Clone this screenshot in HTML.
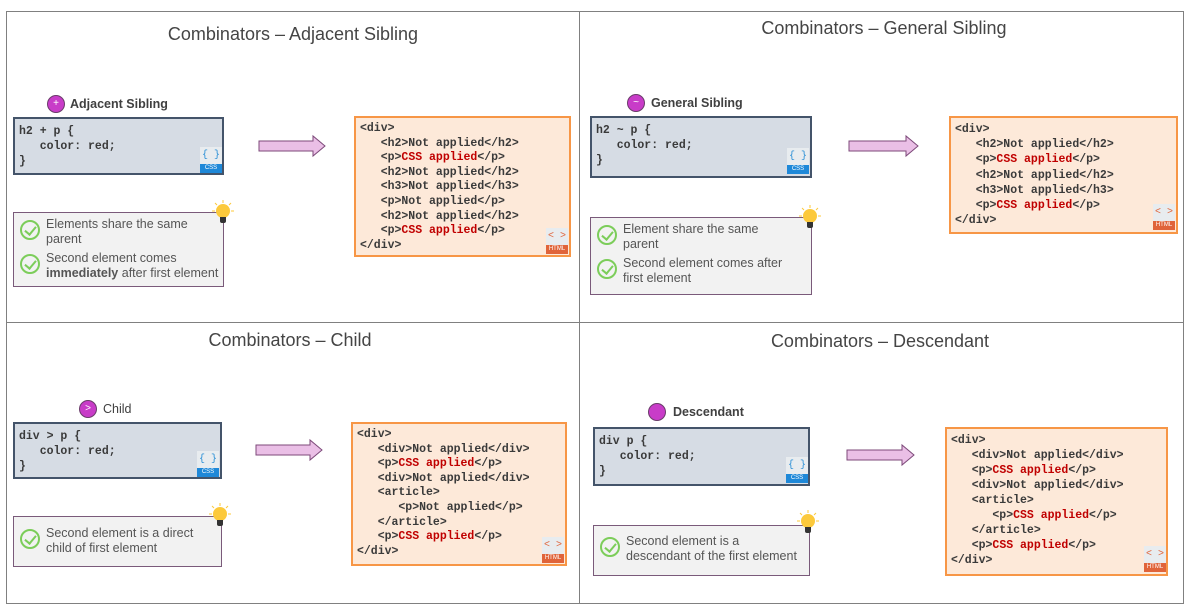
<!DOCTYPE html>
<html><head><meta charset="utf-8"><style>
*{margin:0;padding:0;box-sizing:border-box}
body{width:1188px;height:608px;background:#fff;position:relative;overflow:hidden;font-family:"Liberation Sans",sans-serif;color:#404040}
.a{position:absolute}
.frame{left:6px;top:11px;width:1178px;height:593px;border:1px solid #808080}
.vl{left:579px;top:11px;width:1px;height:593px;background:#808080}
.hl{left:6px;top:322px;width:1178px;height:1px;background:#808080}
.title{font-size:18px;color:#454545;text-align:center;width:400px;white-space:nowrap}
.badge{width:18px;height:18px;border-radius:50%;background:#c83cc8;border:1px solid #6a3b6a;color:#fff;font-size:10px;text-align:center;line-height:16px}
.lbl{font-size:12.5px;font-weight:bold;color:#404040;white-space:nowrap}
.css{background:#d6dce4;border:2px solid #44546a;font-family:"Liberation Mono",monospace;font-weight:bold;font-size:11.5px;line-height:15px;padding:5px 4px;white-space:pre;color:#3a3a3a}
.html{background:#fde9d9;border:2px solid #f79646;font-family:"Liberation Mono",monospace;font-weight:bold;font-size:11.5px;line-height:14.6px;padding:4px 4px;white-space:pre;color:#3a3a3a}
.r{color:#c00000}
.tip{background:#f2f2f2;border:1.5px solid #7a5a7a;font-size:12.5px;line-height:15px;color:#555}
.tip .row{display:flex;align-items:flex-start;margin:4px 0 0 4px}
.chk{width:20px;height:20px;border:2px solid #7ccd5a;border-radius:50%;margin:3px 6px 0 2px;flex:none;position:relative}
.chk:after{content:"";position:absolute;left:5px;top:2px;width:5px;height:9px;border:solid #7ccd5a;border-width:0 2px 2px 0;transform:rotate(40deg)}
.ci{width:22px;height:26px;background:#e8ecef}
.ci .t{font-size:10px;color:#2a8fd6;text-align:center;line-height:17px;font-family:"Liberation Mono",monospace}
.ci .b{background:#1e88d8;color:#fff;font-size:6px;text-align:center;line-height:9px}
.hi .t{color:#e0643a}
.hi .b{background:#e0643a}
.bulb{width:14px;height:14px;border-radius:50%;background:#fcc93b}
.bulb:after{content:"";position:absolute;left:4px;top:13px;width:6px;height:6px;background:#333;border-radius:0 0 2px 2px}
</style></head><body>
<div class="a frame"></div><div class="a vl"></div><div class="a hl"></div>

<svg class="a" style="left:0;top:0" width="1188" height="608">
<g fill="#eabfe6" stroke="#7d4a7a" stroke-width="1">
<polygon points="259,141 313,141 313,136 325,146 313,156 313,151 259,151"/>
<polygon points="849,141 906,141 906,136 918,146 906,156 906,151 849,151"/>
<polygon points="256,445 310,445 310,440 322,450 310,460 310,455 256,455"/>
<polygon points="847,450 902,450 902,445 914,455 902,465 902,460 847,460"/>
</g>
<g stroke="#fcc93b" stroke-width="1">
<line x1="223" y1="200" x2="223" y2="203"/><line x1="212" y1="211" x2="215" y2="211"/><line x1="231" y1="211" x2="234" y2="211"/><line x1="215" y1="203" x2="217" y2="205"/><line x1="231" y1="203" x2="229" y2="205"/>
<line x1="810" y1="205" x2="810" y2="208"/><line x1="799" y1="216" x2="802" y2="216"/><line x1="818" y1="216" x2="821" y2="216"/><line x1="802" y1="208" x2="804" y2="210"/><line x1="818" y1="208" x2="816" y2="210"/>
<line x1="220" y1="503" x2="220" y2="506"/><line x1="209" y1="514" x2="212" y2="514"/><line x1="228" y1="514" x2="231" y2="514"/><line x1="212" y1="506" x2="214" y2="508"/><line x1="228" y1="506" x2="226" y2="508"/>
<line x1="808" y1="510" x2="808" y2="513"/><line x1="797" y1="521" x2="800" y2="521"/><line x1="816" y1="521" x2="819" y2="521"/><line x1="800" y1="513" x2="802" y2="515"/><line x1="816" y1="513" x2="814" y2="515"/>
</g>
</svg>

<!-- Panel 1 -->
<div class="a title" style="left:93px;top:24px">Combinators – Adjacent Sibling</div>
<div class="a badge" style="left:47px;top:95px">+</div>
<div class="a lbl" style="left:70px;top:97px">Adjacent Sibling</div>
<div class="a css" style="left:13px;top:117px;width:211px;height:58px">h2 + p {
   color: red;
}</div>
<div class="a ci" style="left:200px;top:147px"><div class="t">{ }</div><div class="b">CSS</div></div>
<div class="a html" style="left:354px;top:116px;width:217px;height:141px">&lt;div&gt;
   &lt;h2&gt;Not applied&lt;/h2&gt;
   &lt;p&gt;<span class="r">CSS applied</span>&lt;/p&gt;
   &lt;h2&gt;Not applied&lt;/h2&gt;
   &lt;h3&gt;Not applied&lt;/h3&gt;
   &lt;p&gt;Not applied&lt;/p&gt;
   &lt;h2&gt;Not applied&lt;/h2&gt;
   &lt;p&gt;<span class="r">CSS applied</span>&lt;/p&gt;
&lt;/div&gt;</div>
<div class="a ci hi" style="left:546px;top:228px"><div class="t">&lt; &gt;</div><div class="b">HTML</div></div>
<div class="a tip" style="left:13px;top:212px;width:211px;height:75px">
<div class="row"><div class="chk"></div><div>Elements share the same<br>parent</div></div>
<div class="row"><div class="chk"></div><div>Second element comes<br><b>immediately</b> after first element</div></div></div>
<div class="a bulb" style="left:216px;top:204px"></div>

<!-- Panel 2 -->
<div class="a title" style="left:684px;top:18px">Combinators – General Sibling</div>
<div class="a badge" style="left:627px;top:94px">~</div>
<div class="a lbl" style="left:651px;top:96px">General Sibling</div>
<div class="a css" style="left:590px;top:116px;width:222px;height:62px">h2 ~ p {
   color: red;
}</div>
<div class="a ci" style="left:787px;top:148px"><div class="t">{ }</div><div class="b">CSS</div></div>
<div class="a html" style="left:949px;top:116px;width:229px;height:118px;line-height:15.2px">&lt;div&gt;
   &lt;h2&gt;Not applied&lt;/h2&gt;
   &lt;p&gt;<span class="r">CSS applied</span>&lt;/p&gt;
   &lt;h2&gt;Not applied&lt;/h2&gt;
   &lt;h3&gt;Not applied&lt;/h3&gt;
   &lt;p&gt;<span class="r">CSS applied</span>&lt;/p&gt;
&lt;/div&gt;</div>
<div class="a ci hi" style="left:1153px;top:204px"><div class="t">&lt; &gt;</div><div class="b">HTML</div></div>
<div class="a tip" style="left:590px;top:217px;width:222px;height:78px">
<div class="row"><div class="chk"></div><div>Element share the same<br>parent</div></div>
<div class="row"><div class="chk"></div><div>Second element comes after<br>first element</div></div></div>
<div class="a bulb" style="left:803px;top:209px"></div>

<!-- Panel 3 -->
<div class="a title" style="left:90px;top:330px">Combinators – Child</div>
<div class="a badge" style="left:79px;top:400px">&gt;</div>
<div class="a lbl" style="left:103px;top:402px;font-weight:normal">Child</div>
<div class="a css" style="left:13px;top:422px;width:209px;height:57px">div &gt; p {
   color: red;
}</div>
<div class="a ci" style="left:197px;top:451px"><div class="t">{ }</div><div class="b">CSS</div></div>
<div class="a html" style="left:351px;top:422px;width:216px;height:144px">&lt;div&gt;
   &lt;div&gt;Not applied&lt;/div&gt;
   &lt;p&gt;<span class="r">CSS applied</span>&lt;/p&gt;
   &lt;div&gt;Not applied&lt;/div&gt;
   &lt;article&gt;
      &lt;p&gt;Not applied&lt;/p&gt;
   &lt;/article&gt;
   &lt;p&gt;<span class="r">CSS applied</span>&lt;/p&gt;
&lt;/div&gt;</div>
<div class="a ci hi" style="left:542px;top:537px"><div class="t">&lt; &gt;</div><div class="b">HTML</div></div>
<div class="a tip" style="left:13px;top:516px;width:209px;height:51px">
<div class="row" style="margin-top:9px"><div class="chk"></div><div>Second element is a direct<br>child of first element</div></div></div>
<div class="a bulb" style="left:213px;top:507px"></div>

<!-- Panel 4 -->
<div class="a title" style="left:680px;top:331px">Combinators – Descendant</div>
<div class="a badge" style="left:648px;top:403px"></div>
<div class="a lbl" style="left:673px;top:405px">Descendant</div>
<div class="a css" style="left:593px;top:427px;width:217px;height:59px">div p {
   color: red;
}</div>
<div class="a ci" style="left:786px;top:457px"><div class="t">{ }</div><div class="b">CSS</div></div>
<div class="a html" style="left:945px;top:427px;width:223px;height:149px;line-height:15px">&lt;div&gt;
   &lt;div&gt;Not applied&lt;/div&gt;
   &lt;p&gt;<span class="r">CSS applied</span>&lt;/p&gt;
   &lt;div&gt;Not applied&lt;/div&gt;
   &lt;article&gt;
      &lt;p&gt;<span class="r">CSS applied</span>&lt;/p&gt;
   &lt;/article&gt;
   &lt;p&gt;<span class="r">CSS applied</span>&lt;/p&gt;
&lt;/div&gt;</div>
<div class="a ci hi" style="left:1144px;top:546px"><div class="t">&lt; &gt;</div><div class="b">HTML</div></div>
<div class="a tip" style="left:593px;top:525px;width:217px;height:51px">
<div class="row" style="margin-top:8px"><div class="chk"></div><div>Second element is a<br>descendant of the first element</div></div></div>
<div class="a bulb" style="left:801px;top:514px"></div>
</body></html>
